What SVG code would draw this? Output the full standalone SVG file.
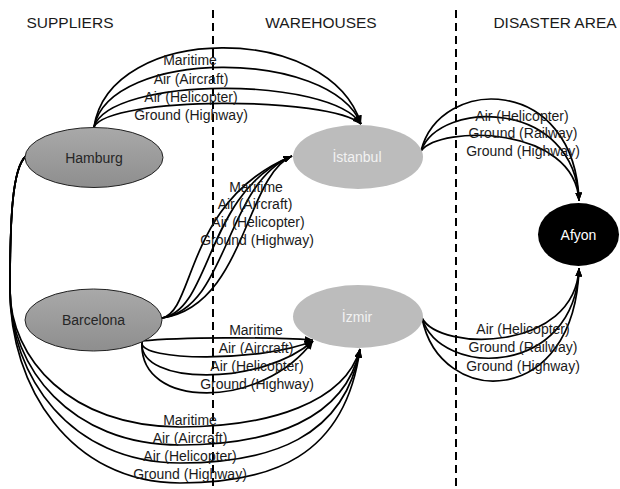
<svg xmlns="http://www.w3.org/2000/svg" width="620" height="489" viewBox="0 0 620 489">
<defs>
<linearGradient id="gDark" x1="0" y1="0" x2="0" y2="1">
<stop offset="0" stop-color="#a9a9a9"/>
<stop offset="1" stop-color="#8e8e8e"/>
</linearGradient>
<marker id="arr" viewBox="0 0 10 8" refX="10" refY="4" markerWidth="5" markerHeight="4" orient="auto" markerUnits="strokeWidth">
<path d="M0,0 L10,4 L0,8 z" fill="#000"/>
</marker>
<style>
.hdr{font-family:"Liberation Sans",Arial,sans-serif;font-size:15.5px;fill:#1a1a1a;text-anchor:middle}
.lbl{font-family:"Liberation Sans",Arial,sans-serif;font-size:14px;fill:#1a1a1a;text-anchor:middle}
.ntx{font-family:"Liberation Sans",Arial,sans-serif;font-size:14px;text-anchor:middle}
.c{fill:none;stroke:#000;stroke-width:1.7;marker-end:url(#arr)}
.div{stroke:#000;stroke-width:2;stroke-dasharray:8,5}
</style>
</defs>
<rect width="620" height="489" fill="#fff"/>
<g id="dividers">
<line class="div" x1="213" y1="10" x2="213" y2="489"/>
<line class="div" x1="456" y1="10" x2="456" y2="489"/>
</g>
<g id="headers">
<text class="hdr" x="70" y="28">SUPPLIERS</text>
<text class="hdr" x="321" y="28">WAREHOUSES</text>
<text class="hdr" x="555" y="28">DISASTER AREA</text>
</g>
<g id="connectors">
<path class="c" d="M94,127 C110,22 330,22 361,124"/>
<path class="c" d="M94,127 C110,48 330,48 361,124"/>
<path class="c" d="M94,127 C110,76 330,76 361,124"/>
<path class="c" d="M94,127 C110,96 330,96 361,124"/>
<path class="c" d="M162,318 C195,312 185,200 292,156"/>
<path class="c" d="M162,318 C212,310 205,192 292,156"/>
<path class="c" d="M162,318 C228,308 225,184 292,156"/>
<path class="c" d="M162,318 C245,306 245,176 292,156"/>
<path class="c" d="M142,341 C180,337 270,337 313,340"/>
<path class="c" d="M142,342 C138,362 262,362 313,341"/>
<path class="c" d="M142,342 C138,386 262,386 313,341"/>
<path class="c" d="M142,342 C138,410 262,410 313,341"/>
<path class="c" d="M26,156 C12,168 10,220 10,290 C10,358 70,427 180,427 C270,427 345,402 360,349"/>
<path class="c" d="M26,156 C12,168 10,220 10,290 C10,367 70,445 180,445 C270,445 345,420 360,349"/>
<path class="c" d="M26,156 C12,168 10,220 10,290 C10,376 70,463 180,463 C270,463 345,438 360,349"/>
<path class="c" d="M26,156 C12,168 10,220 10,290 C10,386 70,483 180,483 C270,483 345,458 360,349"/>
<path class="c" d="M421,151 C440,75 575,75 579,201"/>
<path class="c" d="M421,151 C440,99 575,99 579,201"/>
<path class="c" d="M421,151 C440,125 575,125 579,201"/>
<path class="c" d="M422,318 C440,352 575,352 579,268"/>
<path class="c" d="M422,318 C440,378 575,378 579,268"/>
<path class="c" d="M422,318 C440,409 575,409 579,268"/>
</g>
<g id="labels">
<text class="lbl" x="190" y="65">Maritime</text>
<text class="lbl" x="191" y="84">Air (Aircraft)</text>
<text class="lbl" x="191" y="102">Air (Helicopter)</text>
<text class="lbl" x="191" y="120">Ground (Highway)</text>
<text class="lbl" x="256" y="192">Maritime</text>
<text class="lbl" x="255" y="209">Air (Aircraft)</text>
<text class="lbl" x="258" y="227">Air (Helicopter)</text>
<text class="lbl" x="257" y="245">Ground (Highway)</text>
<text class="lbl" x="256" y="335">Maritime</text>
<text class="lbl" x="256" y="353">Air (Aircraft)</text>
<text class="lbl" x="257" y="371">Air (Helicopter)</text>
<text class="lbl" x="257" y="389">Ground (Highway)</text>
<text class="lbl" x="190" y="425">Maritime</text>
<text class="lbl" x="190" y="443">Air (Aircraft)</text>
<text class="lbl" x="190" y="461">Air (Helicopter)</text>
<text class="lbl" x="190" y="479">Ground (Highway)</text>
<text class="lbl" x="522" y="121">Air (Helicopter)</text>
<text class="lbl" x="523" y="138">Ground (Railway)</text>
<text class="lbl" x="523" y="156">Ground (Highway)</text>
<text class="lbl" x="523" y="334">Air (Helicopter)</text>
<text class="lbl" x="523" y="352">Ground (Railway)</text>
<text class="lbl" x="523" y="371">Ground (Highway)</text>
</g>
<g id="hamburg">
<ellipse cx="94" cy="157.5" rx="69" ry="30" fill="url(#gDark)" stroke="#222" stroke-width="1"/>
<text class="ntx" x="94" y="163" fill="#262626">Hamburg</text>
</g>
<g id="barcelona">
<ellipse cx="93.5" cy="320" rx="68.5" ry="31" fill="url(#gDark)" stroke="#222" stroke-width="1"/>
<text class="ntx" x="93.5" y="325" fill="#262626">Barcelona</text>
</g>
<g id="istanbul">
<ellipse cx="358" cy="157" rx="65" ry="32" fill="#bcbcbc"/>
<text class="ntx" x="357" y="162" fill="#f2f2f2">İstanbul</text>
</g>
<g id="izmir">
<ellipse cx="358" cy="316.5" rx="65" ry="31.5" fill="#bcbcbc"/>
<text class="ntx" x="357" y="322" fill="#f2f2f2">İzmir</text>
</g>
<g id="afyon">
<ellipse cx="578.5" cy="234.5" rx="40.5" ry="31.5" fill="#000"/>
<text class="ntx" x="578.5" y="240" fill="#fff">Afyon</text>
</g>
</svg>
